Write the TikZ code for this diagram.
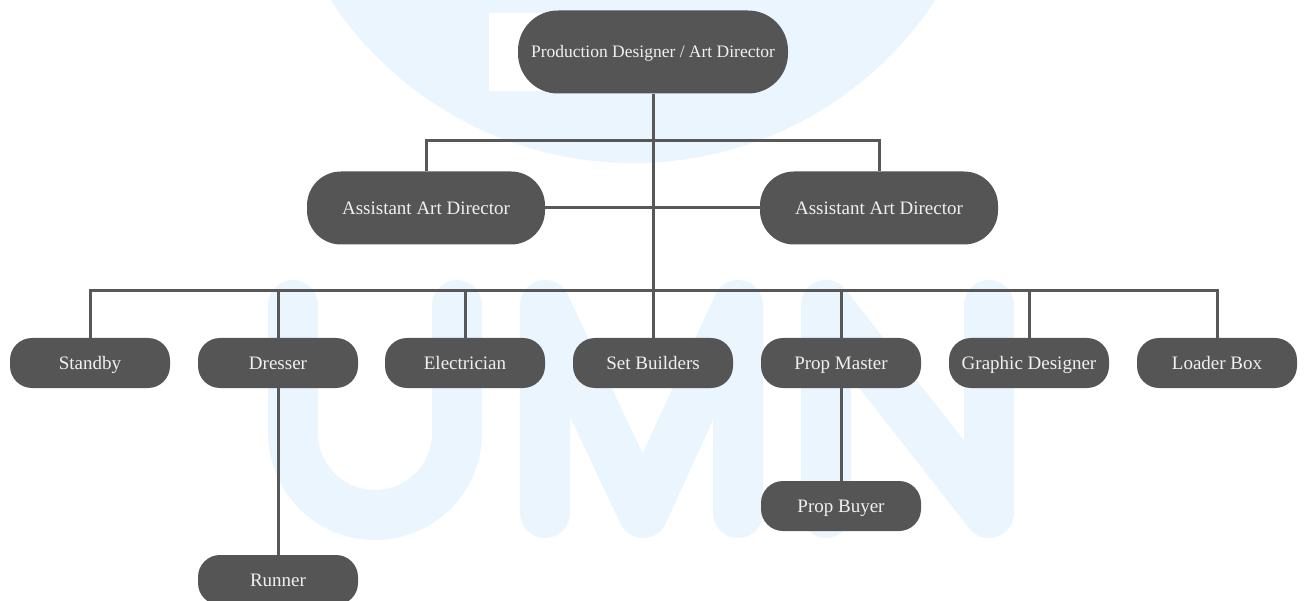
\documentclass[tikz,border=0pt]{standalone}
\usepackage{fontspec}
\setmainfont{Liberation Serif}
\usepackage{tikz}
\usetikzlibrary{calc}
\usepackage{xcolor}
\definecolor{box-grey}{RGB}{85,85,85}
\definecolor{line-grey}{RGB}{88,88,88}
\definecolor{box-text}{RGB}{240,240,240}
\definecolor{mark-blue}{RGB}{234,245,254}
\tikzstyle{role}=[fill=box-grey, text=box-text, rounded corners=22pt, minimum width=160pt, minimum height=50pt, inner sep=0pt, text height=16pt, text depth=3.4pt, font=\fontsize{19}{22}\selectfont]
\tikzstyle{lead}=[role, minimum width=238pt, minimum height=73pt, rounded corners=34pt]
\tikzstyle{head}=[role, minimum width=270pt, minimum height=83pt, rounded corners=40pt, text height=15pt, font=\fontsize{17.5}{20}\selectfont]
\tikzstyle{link}=[draw=line-grey, line width=3pt]
\tikzstyle{stroke}=[draw=mark-blue, line width=50pt, line cap=round, line join=round]

\begin{document}
\begin{tikzpicture}[x=1pt,y=1pt]
	\useasboundingbox (0,0) rectangle (1306,-601);
	\begin{scope}
		\clip (0,0) rectangle (1306,-601);
		\fill[mark-blue] (633,199) circle (362);
		\fill[white] (489,-13) rectangle (640,-91);
		\draw[stroke] (293,-305) -- (293,-433) arc[start angle=180, end angle=360, radius=82] -- (457,-305);
		\draw[stroke] (545,-513) -- (545,-305) -- (643,-513) -- (738,-305) -- (738,-513);
		\draw[stroke] (826,-513) -- (826,-305) -- (989,-513) -- (989,-305);
	\end{scope}
	\coordinate (upper) at (653,-141);
	\coordinate (lower) at (653,-291);
	\node[head] (pd) at (653,-52) {Production Designer / Art Director};
	\node[lead] (aadl) at (426,-208) {Assistant Art Director};
	\node[lead] (aadr) at (879,-208) {Assistant Art Director};
	\node[role] (standby) at (90,-363) {Standby};
	\node[role] (dresser) at (278,-363) {Dresser};
	\node[role] (electrician) at (465,-363) {Electrician};
	\node[role] (setbuilders) at (653,-363) {Set Builders};
	\node[role] (propmaster) at (841,-363) {Prop Master};
	\node[role] (graphic) at (1029,-363) {Graphic Designer};
	\node[role] (loader) at (1217,-363) {Loader Box};
	\node[role] (propbuyer) at (841,-506) {Prop Buyer};
	\node[role] (runner) at (278,-580) {Runner};
	\draw[link] (pd.south) -- (setbuilders.north);
	\draw[link] (aadl.north) |- (upper) -| (aadr.north);
	\draw[link] (aadl.east) -- (aadr.west);
	\draw[link] (standby.north) |- (lower) -| (loader.north);
	\foreach \n in {dresser,electrician,propmaster,graphic}
		\draw[link] (\n.north) -- (\n.north |- lower);
	\draw[link] (dresser.south) -- (runner.north);
	\draw[link] (propmaster.south) -- (propbuyer.north);
\end{tikzpicture}
\end{document}
